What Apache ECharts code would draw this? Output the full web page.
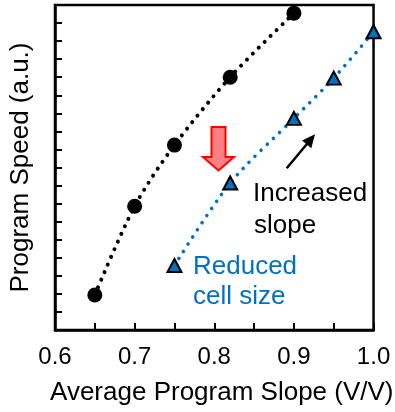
<!DOCTYPE html>
<html>
<head>
<meta charset="utf-8">
<script src="https://cdn.jsdelivr.net/npm/echarts@6/dist/echarts.min.js"></script>
<style>
  html, body { margin: 0; padding: 0; background: #fff; }
  #chart { width: 395px; height: 412px; }
</style>
</head>
<body>
<div id="chart"></div>
<script>
// Average program slope (V/V) and program speed (a.u.) for the two cell designs
const baselineSlope = [0.65, 0.70, 0.75, 0.82, 0.90];
const baselineSpeed = [1.94, 6.85, 10.24, 14.0, 17.55];
const reducedSlope = [0.75, 0.82, 0.90, 0.95, 1.00];
const reducedSpeed = [3.57, 8.14, 11.72, 13.95, 16.52];

const xTitle = 'Average Program Slope (V/V)';
const yTitle = 'Program Speed (a.u.)';
const noteSlope = ['Increased', 'slope'];
const noteCell = ['Reduced', 'cell size'];

const FONT = '"Liberation Sans", Arial, sans-serif';
const BLUE = '#0070C0';

const chart = echarts.init(document.getElementById('chart'), null, { renderer: 'canvas' });

function pairs(xs, ys) { return xs.map((x, i) => [x, ys[i]]); }

// arrow with a filled head, from tail (x1,y1) to tip (x2,y2)
function arrow(x1, y1, x2, y2, headLen, headHalf, width) {
  const dx = x2 - x1, dy = y2 - y1, len = Math.hypot(dx, dy);
  const ux = dx / len, uy = dy / len, px = -uy, py = ux;
  const bx = x2 - ux * headLen, by = y2 - uy * headLen;
  return [
    { type: 'line', shape: { x1: x1, y1: y1, x2: bx + ux, y2: by + uy },
      style: { stroke: '#000', lineWidth: width }, z: 20 },
    { type: 'polygon', shape: { points: [[x2, y2], [bx + px * headHalf, by + py * headHalf], [bx - px * headHalf, by - py * headHalf]] },
      style: { fill: '#000' }, z: 20 }
  ];
}

const option = {
  animation: false,
  backgroundColor: '#fff',
  grid: { left: 52, top: 5, right: 18, bottom: 82, show: true, borderColor: '#000', borderWidth: 2.5, backgroundColor: 'transparent' },
  xAxis: {
    type: 'value', min: 0.6, max: 1.0, interval: 0.05,
    name: xTitle, nameLocation: 'middle', nameGap: 50,
    nameTextStyle: { fontFamily: FONT, fontSize: 26, color: '#000', padding: [0, 0, 0, 15] },
    axisLine: { show: true, lineStyle: { color: '#000', width: 2.5 } },
    axisTick: { show: true, inside: true, length: 7, lineStyle: { color: '#000', width: 2 } },
    axisLabel: {
      margin: 15, fontFamily: FONT, fontSize: 24, color: '#000',
      formatter: v => (Math.round(v * 100) % 10 === 0 ? v.toFixed(1) : '')
    },
    splitLine: { show: false }
  },
  yAxis: {
    type: 'value', min: 0, max: 18, interval: 1,
    name: yTitle, nameLocation: 'middle', nameGap: 21, nameRotate: 90,
    nameTextStyle: { fontFamily: FONT, fontSize: 26, color: '#000' },
    axisLine: { show: true, lineStyle: { color: '#000', width: 2.5 } },
    axisTick: { show: true, inside: true, length: 7, lineStyle: { color: '#000', width: 2 } },
    axisLabel: { show: false },
    splitLine: { show: false }
  },
  series: [
    {
      type: 'line', data: pairs(baselineSlope, baselineSpeed), smooth: 0.3,
      symbol: 'circle', symbolSize: 15,
      itemStyle: { color: '#000' },
      lineStyle: { color: '#000', width: 4, type: [0.01, 8.3], cap: 'round' },
      z: 3
    },
    {
      type: 'line', data: pairs(reducedSlope, reducedSpeed), smooth: 0.3,
      symbol: 'triangle', symbolSize: [14, 13],
      itemStyle: { color: BLUE, borderColor: '#000', borderWidth: 2 },
      lineStyle: { color: BLUE, width: 3.6, type: [0.01, 8.5], cap: 'round' },
      z: 3
    }
  ],
  graphic: [
    // red downward arrow
    { type: 'polygon', z: 20,
      shape: { points: [[211.5, 127], [225.5, 127], [225.5, 157], [234, 157], [218.5, 170.5], [203, 157], [211.5, 157]] },
      style: { fill: '#FF8080', stroke: '#FF0000', lineWidth: 2 } },
    ...arrow(286.7, 168.3, 315, 134.3, 13, 6, 2.5),
    { type: 'text', left: 253, top: 181, z: 20, style: { text: noteSlope[0], fill: '#000', font: '26px ' + FONT } },
    { type: 'text', left: 254, top: 212.5, z: 20, style: { text: noteSlope[1], fill: '#000', font: '26px ' + FONT } },
    { type: 'text', left: 193, top: 254, z: 20, style: { text: noteCell[0], fill: BLUE, font: '26px ' + FONT } },
    { type: 'text', left: 193, top: 284, z: 20, style: { text: noteCell[1], fill: BLUE, font: '26px ' + FONT } }
  ]
};

chart.setOption(option);
</script>
</body>
</html>
